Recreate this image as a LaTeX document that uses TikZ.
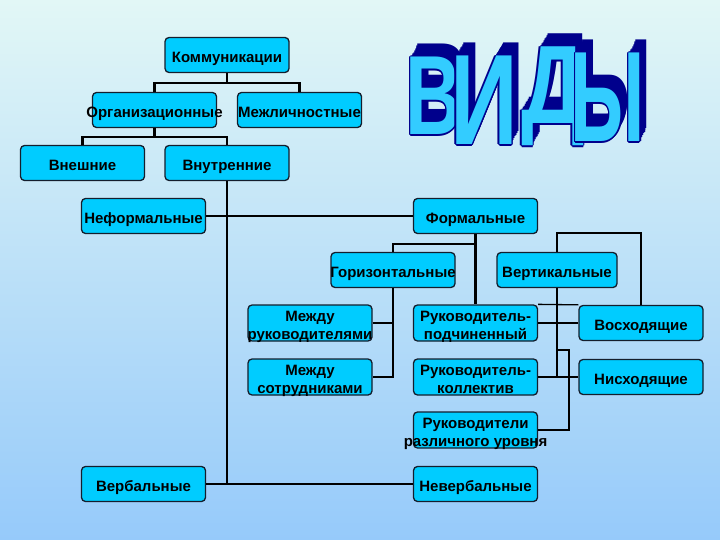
\documentclass[tikz,border=0pt]{standalone}
\usepackage{fontspec}
\setmainfont{Liberation Sans}
\usetikzlibrary{calc}

\definecolor{bgtop}{RGB}{226,247,246}
\definecolor{bgbot}{RGB}{150,202,250}
\definecolor{boxfill}{RGB}{0,204,255}
\definecolor{boxline}{RGB}{20,30,45}
\definecolor{artfront}{RGB}{51,204,255}
\definecolor{artback}{RGB}{0,0,140}

\tikzset{
  kind/.style={draw=boxline, line width=1.3pt, fill=boxfill, rounded corners=4pt,
    minimum width=124pt, minimum height=35pt, inner sep=0pt,
    font=\bfseries\fontsize{15}{18}\selectfont},
  link/.style={draw=black, line width=2.2pt},
  art/.style={inner sep=0pt, anchor=base, font=\bfseries\fontsize{115}{115}\selectfont}
}
\newcommand{\kindtext}[1]{\raisebox{-3.5pt}[\height][\depth]{\makebox[0pt]{\begin{tabular}{@{}c@{}}#1\end{tabular}}}}

\begin{document}
\begin{tikzpicture}[x=1pt, y=-1pt]
  \shade[top color=bgtop, bottom color=bgbot] (0,0) rectangle (720,540);
  \useasboundingbox (0,0) rectangle (720,540);

  % ВИДЫ
  \foreach \ch/\px/\py/\sx/\sy [count=\i] in {В/434/135/0.68/0.98, И/484/145/0.82/1.12, Д/553/124/0.78/0.97, Ы/608/142/0.66/1.12} {
    \foreach \t in {1,0.875,...,0.1}
      \node[art, text=artback] at ({\px+7*\t},{\py-13*\t}) {\scalebox{\sx}[\sy]{\ch}};
    \foreach \a in {0,45,...,315}
      \node[art, text=artback] at ($(\px,\py)+(\a:1.3)$) {\scalebox{\sx}[\sy]{\ch}};
    \node[art, text=artfront] (letter\i) at (\px,\py) {\scalebox{\sx}[\sy]{\ch}};
  }

  \node[kind] (komm) at (227,55) {\kindtext{Коммуникации}};
  \node[kind] (org) at (154.5,110) {\kindtext{Организационные}};
  \node[kind] (mezhl) at (299.5,110) {\kindtext{Межличностные}};
  \node[kind] (vnesh) at (82.5,163) {\kindtext{Внешние}};
  \node[kind] (vnutr) at (227,163) {\kindtext{Внутренние}};
  \node[kind] (neform) at (143.5,216) {\kindtext{Неформальные}};
  \node[kind] (form) at (475.5,216) {\kindtext{Формальные}};
  \node[kind] (goriz) at (393,270) {\kindtext{Горизонтальные}};
  \node[kind, minimum width=120pt] (vert) at (557,270) {\kindtext{Вертикальные}};
  \node[kind] (mruk) at (310,323) {\kindtext{Между\\руководителями}};
  \node[kind] (msotr) at (310,377) {\kindtext{Между\\сотрудниками}};
  \node[kind] (rukpod) at (475.5,323) {\kindtext{Руководитель-\\подчиненный}};
  \node[kind] (rukkol) at (475.5,377) {\kindtext{Руководитель-\\коллектив}};
  \node[kind] (rukraz) at (475.5,430) {\kindtext{Руководители\\различного уровня}};
  \node[kind] (voskh) at (641,323) {\kindtext{Восходящие}};
  \node[kind] (nishod) at (641,377) {\kindtext{Нисходящие}};
  \node[kind] (verb) at (143.5,484) {\kindtext{Вербальные}};
  \node[kind] (neverb) at (475.5,484) {\kindtext{Невербальные}};
  \coordinate (bend) at (569,350);

  \draw[link] (komm.south) -- ++(0,10) -| (org.north);
  \draw[link] (komm.south) ++(0,10) -| (mezhl.north);
  \draw[link] (org.south) -- ++(0,9) -| (vnesh.north);
  \draw[link] (org.south) ++(0,9) -| (vnutr.north);
  \draw[link] (vnutr.south) -- (vnutr.south |- verb.east);
  \draw[link] (neform.east) -- (form.west);
  \draw[link] (verb.east) -- (neverb.west);
  \draw[link] (form.south) -- (rukpod.north);
  \draw[link] (form.south) ++(0,10) -| (goriz.north);
  \draw[link] (goriz.south) |- (msotr.east);
  \draw[link] (mruk.east) -- (goriz.south |- mruk.east);
  \draw[link] (vert.north) -- ++(0,-19) -| (voskh.north);
  \draw[link] (vert.south) -- (vert.south |- rukkol.east);
  \draw[link] (rukpod.east) -- (voskh.west);
  \draw[link] (rukkol.east) -- (nishod.west);
  \draw[link] (vert.south |- bend) -- (bend) |- (rukraz.east);
  \draw[link, line width=1.3pt] (rukpod.north east) -- (voskh.north west);
\end{tikzpicture}
\end{document}
